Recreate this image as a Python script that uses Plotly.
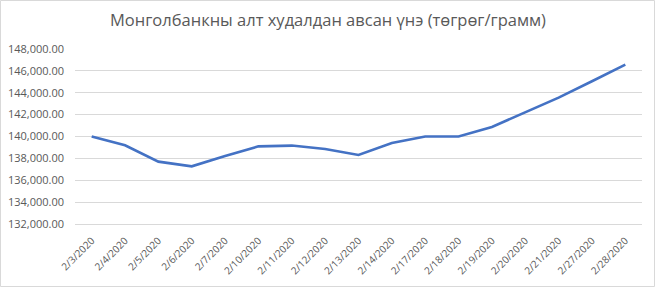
import plotly.graph_objects as go

dates = ["2/3/2020", "2/4/2020", "2/5/2020", "2/6/2020", "2/7/2020", "2/10/2020",
         "2/11/2020", "2/12/2020", "2/13/2020", "2/14/2020", "2/17/2020", "2/18/2020",
         "2/19/2020", "2/20/2020", "2/21/2020", "2/27/2020", "2/28/2020"]
prices = [140000, 139200, 137700, 137270, 138220, 139100,
          139170, 138860, 138310, 139400, 140000, 140000,
          140870, 142200, 143550, 145050, 146570]
y_ticks = [132000, 134000, 136000, 138000, 140000, 142000, 144000, 146000, 148000]
title = "Монголбанкны алт худалдан авсан үнэ (төгрөг/грамм)"

W, H = 656, 288
L, R, T, B = 75, 14, 49, 64
pw, ph = W - L - R, H - T - B

fig = go.Figure()
fig.add_trace(go.Scatter(x=dates, y=prices, mode="lines",
                         line=dict(color="#4472C4", width=2.6)))

fig.update_layout(
    width=W, height=H,
    margin=dict(l=L, r=R, t=T, b=B),
    paper_bgcolor="white", plot_bgcolor="white",
    showlegend=False,
    title=dict(text=title, x=0.5, xanchor="center", y=1 - 20 / H, yanchor="middle",
               font=dict(family="Open Sans", size=16.5, color="#595959")),
    font=dict(family="Open Sans", color="#595959", size=11),
    shapes=[dict(type="rect", xref="paper", yref="paper",
                 x0=-(L - 0.5) / pw, x1=1 + (R - 1.5) / pw,
                 y0=-(B - 1.5) / ph, y1=1 + (T - 0.5) / ph,
                 line=dict(color="#d9d9d9", width=1), layer="below")],
)
fig.update_xaxes(type="category", range=[-0.5, len(dates) - 0.5], tickangle=-45,
                 showgrid=False, showline=True, linecolor="#d9d9d9", linewidth=1,
                 ticks="", ticklabelstandoff=6, automargin=False,
                 tickfont=dict(size=10, color="#595959"))
fig.update_yaxes(range=[132000, 148000], tickvals=y_ticks, tickformat=",.2f",
                 showgrid=True, gridcolor="#d9d9d9", gridwidth=1, zeroline=False,
                 showline=False, ticks="", ticklabelstandoff=10, automargin=False,
                 tickfont=dict(size=11, color="#595959"))

fig.write_html("out.html")
